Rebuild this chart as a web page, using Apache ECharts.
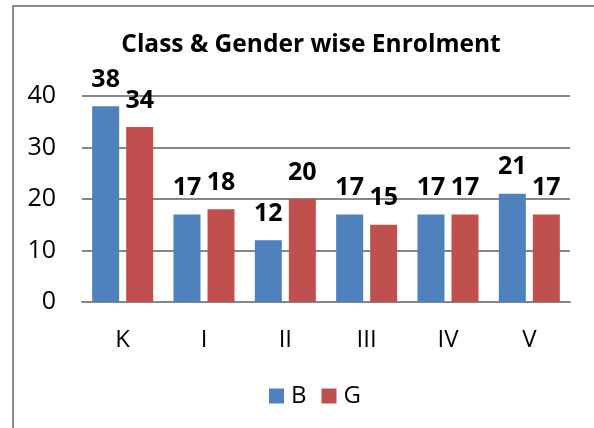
<!DOCTYPE html>
<html>
<head>
<meta charset="utf-8">
<script src="https://cdn.jsdelivr.net/npm/echarts@6/dist/echarts.min.js"></script>
<style>
  html, body { margin: 0; padding: 0; background: #fff; }
  #frame { position: absolute; left: 12px; top: 5px; width: 600px; height: 440px;
           border-left: 2px solid #8c8c8c; border-top: 2px solid #8c8c8c; }
  #main { position: absolute; left: 0; top: 0; width: 594px; height: 428px; }
</style>
</head>
<body>
<div id="frame"></div>
<div id="main"></div>
<script>
// classes and enrolment counts
const classes = ['K', 'I', 'II', 'III', 'IV', 'V'];
const boys = [38, 17, 12, 17, 17, 21];
const girls = [34, 18, 20, 15, 17, 17];
const yTicks = [0, 10, 20, 30, 40];

var chartDom = document.getElementById('main');
var myChart = echarts.init(chartDom);
var font = 'Open Sans';

const labelStyle = {
    show: true,
    position: 'top',
    distance: 14,
    fontFamily: font,
    fontWeight: 'bold',
    fontSize: 25,
    color: '#000'
};

var option = {
    animation: false,
    title: {
        text: 'Class & Gender wise Enrolment',
        left: 306,
        textAlign: 'center',
        top: 28,
        textStyle: { fontFamily: font, fontWeight: 'bold', fontSize: 24.5, color: '#000' }
    },
    legend: {
        top: 379,
        left: 264,
        itemWidth: 15,
        itemHeight: 15,
        itemGap: 15,
        icon: 'rect',
        itemStyle: { borderWidth: 0 },
        textStyle: { fontFamily: font, fontSize: 24, color: '#000', padding: [0, 0, 0, 2] },
        data: ['B', 'G']
    },
    grid: { left: 82, right: 24, top: 96, bottom: 126 },
    xAxis: {
        type: 'category',
        data: classes,
        axisLine: { lineStyle: { color: '#868686', width: 2 } },
        axisTick: { show: false },
        axisLabel: { fontFamily: font, fontSize: 24, color: '#000', margin: 26 }
    },
    yAxis: {
        type: 'value',
        min: yTicks[0],
        max: yTicks[yTicks.length - 1],
        interval: 10,
        axisLine: { show: false },
        axisTick: { show: false },
        splitLine: { lineStyle: { color: '#868686', width: 2 } },
        axisLabel: { fontFamily: font, fontSize: 25, color: '#000', margin: 26 }
    },
    series: [
        {
            name: 'B',
            type: 'bar',
            data: boys,
            barWidth: 27,
            barGap: '26%',
            itemStyle: { color: '#4F81BD' },
            label: labelStyle
        },
        {
            name: 'G',
            type: 'bar',
            data: girls,
            barWidth: 27,
            itemStyle: { color: '#C0504D' },
            label: labelStyle
        }
    ]
};
option && myChart.setOption(option);
</script>
</body>
</html>
